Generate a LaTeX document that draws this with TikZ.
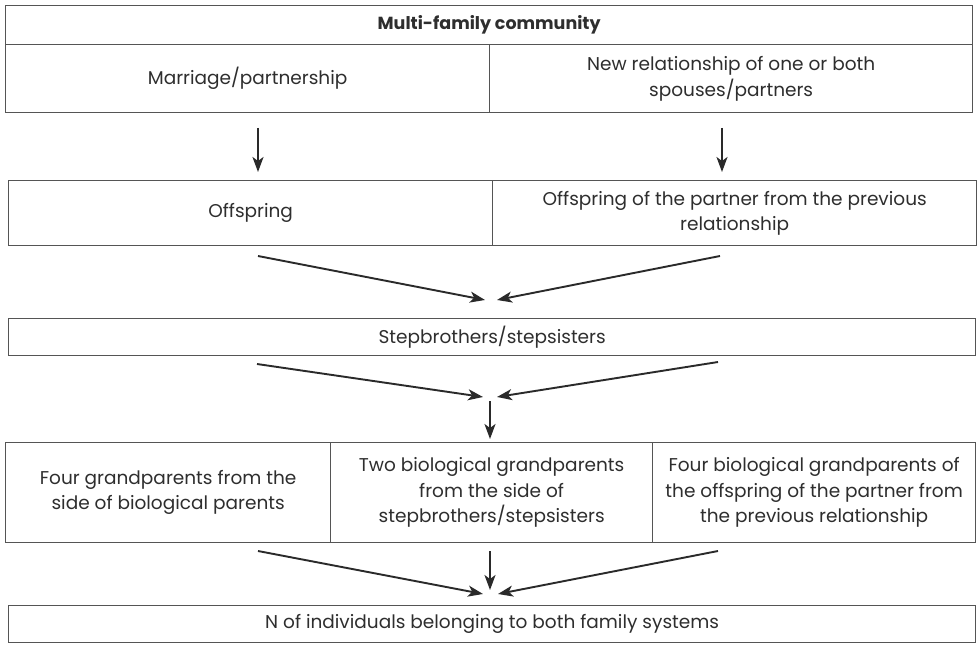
\documentclass[tikz,border=0pt]{standalone}
\usepackage{fontspec}
\setmainfont{Poppins}
\usetikzlibrary{arrows.meta}
\definecolor{bord}{HTML}{555555}
\definecolor{txt}{HTML}{2E2E2E}
\definecolor{arr}{HTML}{2A2A2A}
\begin{document}
\begin{tikzpicture}[x=1pt,y=-1pt,
  cell/.style={draw=bord, line width=1.3pt, rectangle, inner sep=0pt, anchor=north west,
    align=center, text=txt, font=\fontsize{18.5}{25.5}\selectfont},
  conn/.style={draw=arr, line width=1.9pt, -{Stealth[length=15pt,width=11pt,inset=4pt]}}]
\useasboundingbox (0,0) rectangle (977,647);
\fill[white] (0,0) rectangle (977,647);
% row 1
\node[cell, minimum width=967pt, minimum height=39pt, font=\fontsize{17.5}{24}\selectfont\bfseries] (title) at (5,5) {Multi-family community};
\node[cell, minimum width=484pt, minimum height=68pt] (mar) at (5,44) {Marriage/partnership};
\node[cell, minimum width=483pt, minimum height=68pt] (newrel) at (489,44) {New relationship of one or both\\spouses/partners};
% row 2
\node[cell, minimum width=484pt, minimum height=65pt] (off) at (8,180) {Offspring};
\node[cell, minimum width=484pt, minimum height=65pt] (offp) at (492,180) {Offspring of the partner from the previous\\relationship};
% row 3
\node[cell, minimum width=967pt, minimum height=37pt] (stepb) at (8,318) {Stepbrothers/stepsisters};
% row 4
\node[cell, minimum width=325pt, minimum height=100pt] (gpa) at (5,442) {Four grandparents from the\\side of biological parents};
\node[cell, minimum width=322pt, minimum height=100pt] (gpb) at (330,442) {Two biological grandparents\\from the side of\\stepbrothers/stepsisters};
\node[cell, minimum width=323pt, minimum height=100pt] (gpc) at (652,442) {Four biological grandparents of\\the offspring of the partner from\\the previous relationship};
% row 5
\node[cell, minimum width=967pt, minimum height=37pt] (nind) at (8,605) {N of individuals belonging to both family systems};
% connector coordinates
\coordinate (a1s) at (258,128); \coordinate (a1e) at (258,172);
\coordinate (a2s) at (722,128); \coordinate (a2e) at (722,172);
\coordinate (b1s) at (258,256); \coordinate (b1e) at (485,300);
\coordinate (b2s) at (720,256); \coordinate (b2e) at (497,300);
\coordinate (c1s) at (257,364); \coordinate (c1e) at (483,397);
\coordinate (c2s) at (718,362); \coordinate (c2e) at (497,397);
\coordinate (c3s) at (490,401); \coordinate (c3e) at (490,439);
\coordinate (d1s) at (258,551); \coordinate (d1e) at (483,594);
\coordinate (d2s) at (490,551); \coordinate (d2e) at (490,590);
\coordinate (d3s) at (718,551); \coordinate (d3e) at (498,594);
\draw[conn] (a1s) -- (a1e);
\draw[conn] (a2s) -- (a2e);
\draw[conn] (b1s) -- (b1e);
\draw[conn] (b2s) -- (b2e);
\draw[conn] (c1s) -- (c1e);
\draw[conn] (c2s) -- (c2e);
\draw[conn] (c3s) -- (c3e);
\draw[conn] (d1s) -- (d1e);
\draw[conn] (d2s) -- (d2e);
\draw[conn] (d3s) -- (d3e);
\end{tikzpicture}
\end{document}
